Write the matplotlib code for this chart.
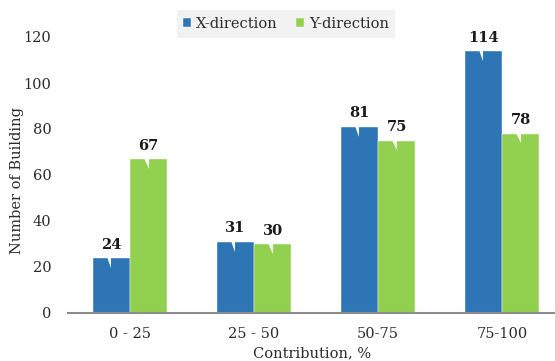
import matplotlib
matplotlib.use("Agg")
import matplotlib.pyplot as plt
from matplotlib.patches import Polygon
import numpy as np

categories = ["0 - 25", "25 - 50", "50-75", "75-100"]
x_direction = [24, 31, 81, 114]
y_direction = [67, 30, 75, 78]
series_names = ["X-direction", "Y-direction"]
y_ticks = [0, 20, 40, 60, 80, 100, 120]

blue = "#2E75B6"
green = "#92D050"
font = ["DejaVu Serif"]
fs = 10.5

plt.rcParams["font.family"] = font

fig = plt.figure(figsize=(5.55, 3.61), dpi=100)
ax = fig.add_axes([68 / 555, 1 - 313 / 361, 1 - 68 / 555, (313 - 37) / 361])

x = np.arange(len(categories))
w = 0.30
bars_x = ax.bar(x - w / 2, x_direction, w, color=blue, label=series_names[0],
                edgecolor="white", linewidth=0.3, zorder=2)
bars_y = ax.bar(x + w / 2, y_direction, w, color=green, label=series_names[1],
                edgecolor="white", linewidth=0.3, zorder=2)

# callout-style labels: value above each bar with a small tail notch cut into the top
for bars in (bars_x, bars_y):
    for b in bars:
        h = b.get_height()
        cx = b.get_x() + b.get_width() / 2
        notch = Polygon([[cx - 0.12 * w, h + 0.3], [cx, h + 0.3], [cx, h - 4.3]],
                        closed=True, facecolor="white", edgecolor="none", zorder=3)
        ax.add_patch(notch)
        ax.annotate(f"{h:g}", (cx, h), xytext=(0, 4.5), textcoords="offset points",
                    ha="center", va="bottom", fontsize=fs, fontweight="bold",
                    color="#1a1a1a", annotation_clip=False)

ax.set_xlim(-0.5, (555 - 68) / 124 - 0.5)
ax.set_ylim(0, 120)
ax.set_yticks(y_ticks)
ax.set_xticks(x)
ax.set_xticklabels(categories)
ax.tick_params(axis="both", length=0, labelsize=fs, colors="#2b2b2b")
ax.tick_params(axis="y", pad=12)
ax.tick_params(axis="x", pad=10)

for s in ("top", "right", "left"):
    ax.spines[s].set_visible(False)
ax.spines["bottom"].set_color("#8c8c8c")
ax.spines["bottom"].set_linewidth(1.5)
ax.spines["bottom"].set_zorder(4)

ax.set_ylabel("Number of Building", fontsize=fs, color="#2b2b2b")
ax.yaxis.set_label_coords(17 / 555, 0.5, transform=fig.transFigure)
ax.yaxis.label.set_verticalalignment("center")
ax.set_xlabel("Contribution, %", fontsize=fs, color="#2b2b2b")
ax.xaxis.set_label_coords(312 / 555, 1 - 353 / 361, transform=fig.transFigure)
ax.xaxis.label.set_verticalalignment("center")

leg = ax.legend(loc="center", bbox_to_anchor=(286 / 555, 1 - 24 / 361),
                bbox_transform=fig.transFigure, ncol=2, frameon=True,
                fontsize=fs, handlelength=0.55, handleheight=0.55,
                handletextpad=0.3, columnspacing=1.3, borderpad=0.45,
                fancybox=False)
leg.get_frame().set_facecolor("#F2F2F2")
leg.get_frame().set_edgecolor("none")
leg.get_frame().set_alpha(1)
for t in leg.get_texts():
    t.set_color("#2b2b2b")

fig.savefig("out.png", dpi=100)
